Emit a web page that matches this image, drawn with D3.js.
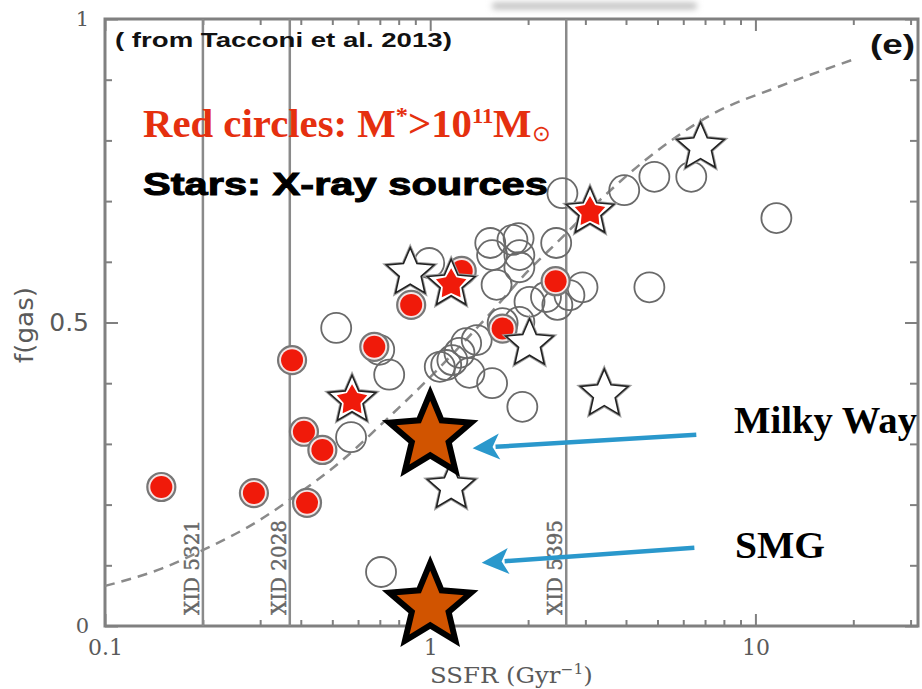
<!DOCTYPE html>
<html><head><meta charset="utf-8">
<script src="https://cdn.jsdelivr.net/npm/d3@7"></script>
<style>body{margin:0;background:#fff} svg{display:block}</style>
</head><body>
<svg id="c" width="922" height="689"></svg>
<script>
// ---------- data ----------
const xTicks = [0.1, 1, 10];
const xTickLabels = ["0.1", "1", "10"];
const yTicks = [0, 0.5, 1];
const yTickLabels = ["0", "0.5", "1"];

// dashed model curve
const curveSSFR = [0.1, 0.15, 0.2, 0.3, 0.37, 0.55, 0.7, 1.0, 1.5, 2.0, 2.5, 3.3, 4.6, 7.3, 12, 19.7];
const curveF    = [0.066, 0.095, 0.125, 0.175, 0.208, 0.278, 0.33, 0.41, 0.51, 0.585, 0.636, 0.70, 0.768, 0.842, 0.89, 0.932];

// open circles (all galaxies)
const openSSFR = [0.514, 0.697, 0.748, 0.571, 0.706, 0.993, 1.55, 1.79, 1.88, 2.44, 1.88, 1.60, 2.02, 2.27, 2.46, 2.68, 2.94, 2.55, 3.95, 4.89, 6.35, 11.6, 4.72, 1.32, 1.55, 1.92, 1.07, 1.12, 1.17, 1.23, 1.29, 1.39, 1.67, 1.88, 1.53, 1.87];
const openF    = [0.491, 0.455, 0.414, 0.311, 0.089, 0.598, 0.611, 0.636, 0.611, 0.631, 0.591, 0.562, 0.534, 0.542, 0.529, 0.545, 0.558, 0.713, 0.718, 0.740, 0.740, 0.672, 0.558, 0.417, 0.400, 0.361, 0.427, 0.430, 0.438, 0.450, 0.466, 0.471, 0.499, 0.501, 0.631, 0.639];

// red circles: M* > 10^11 Msun
const redSSFR = [0.149, 0.287, 0.376, 0.409, 0.418, 0.466, 0.673, 0.874, 1.67, 2.43, 1.25];
const redF    = [0.229, 0.219, 0.438, 0.320, 0.203, 0.290, 0.460, 0.529, 0.490, 0.568, 0.585];

// stars: X-ray sources (massive = red filled)
const starSSFR    = [0.868, 6.78, 2.02, 3.43, 1.16, 0.575, 1.16, 3.10];
const starF       = [0.582, 0.789, 0.465, 0.382, 0.229, 0.372, 0.563, 0.682];
const starMassive = [false, false, false, false, false, true, true, true];

// XID vertical lines
const xidSSFR   = [0.2, 0.37, 2.62];
const xidLabels = ["XID 5321", "XID 2028", "XID 5395"];

// reference objects
const refNames = ["Milky Way", "SMG"];
const refSSFR  = [1.0, 1.0];
const refF     = [0.313, 0.033];
const arrowFromSSFR = [6.58, 6.49];
const arrowFromF    = [0.315, 0.129];
const arrowToSSFR   = [1.35, 1.44];
const arrowToF      = [0.293, 0.104];

// ---------- chart ----------
const svg = d3.select("#c");
const x = d3.scaleLog().domain([0.1, 31.62]).range([105, 918]);
const y = d3.scaleLinear().domain([0, 1]).range([626, 19]);
const GRAY = "#808080";

const defs = svg.append("defs");
defs.append("filter").attr("id", "blur").attr("x", "-20%").attr("y", "-200%").attr("width", "140%").attr("height", "500%")
  .append("feGaussianBlur").attr("stdDeviation", 3);

// blurred bar artifact at the top
svg.append("rect").attr("x", 492).attr("y", 3).attr("width", 205).attr("height", 6)
  .attr("rx", 3).attr("fill", "#b8b8b8").attr("filter", "url(#blur)");

// minor tick values
const minorX = [];
[0.1, 1, 10].forEach(p => { for (let k = 2; k <= 9; k++) { const v = k * p; if (v < 31.6) minorX.push(v); } });
const minorY = d3.range(1, 10).map(i => i / 10).filter(v => Math.abs(v - 0.5) > 1e-9);

function ticks(axisFn, scale, vals, size, tr) {
  svg.append("g").attr("transform", tr)
    .call(axisFn(scale).tickValues(vals).tickSizeInner(-size).tickSizeOuter(0).tickFormat(""))
    .call(g => g.select(".domain").remove())
    .selectAll("line").attr("stroke", GRAY).attr("stroke-width", 2);
}
ticks(d3.axisBottom, x, minorX, 6, "translate(0,626)");
ticks(d3.axisBottom, x, xTicks, 12, "translate(0,626)");
ticks(d3.axisTop, x, minorX, 6, "translate(0,19)");
ticks(d3.axisTop, x, xTicks, 12, "translate(0,19)");
ticks(d3.axisLeft, y, minorY, 7, "translate(105,0)");
ticks(d3.axisLeft, y, yTicks, 13, "translate(105,0)");
ticks(d3.axisRight, y, minorY, 8, "translate(918,0)");
ticks(d3.axisRight, y, yTicks, 13, "translate(918,0)");

// tick labels
const gx = svg.append("g").attr("transform", "translate(0,626)")
  .call(d3.axisBottom(x).tickValues(xTicks).tickFormat((d, i) => xTickLabels[i]).tickSize(0).tickPadding(13));
gx.select(".domain").remove();
gx.selectAll("text").attr("font-family", "DejaVu Serif").attr("font-size", 22).attr("fill", "#5a5a5a");

const gy = svg.append("g").attr("transform", "translate(105,0)")
  .call(d3.axisLeft(y).tickValues(yTicks).tickFormat((d, i) => yTickLabels[i]).tickSize(0).tickPadding(16));
gy.select(".domain").remove();
gy.selectAll("text").attr("fill", "#5a5a5a")
  .attr("font-family", (d, i) => yTickLabels[i] === "0.5" ? "DejaVu Sans" : "DejaVu Serif")
  .attr("font-size", (d, i) => yTickLabels[i] === "0.5" ? 25 : 21);

// frame
svg.append("rect").attr("x", x.range()[0]).attr("y", y.range()[1])
  .attr("width", x.range()[1] - x.range()[0]).attr("height", y.range()[0] - y.range()[1])
  .attr("fill", "none").attr("stroke", GRAY).attr("stroke-width", 3);

// XID vertical lines + labels
svg.append("g").selectAll("line").data(xidSSFR).join("line")
  .attr("x1", d => x(d)).attr("x2", d => x(d)).attr("y1", y(0)).attr("y2", y(1))
  .attr("stroke", "#8a8a8a").attr("stroke-width", 2.5);
svg.append("g").selectAll("text").data(xidSSFR).join("text")
  .attr("transform", d => `translate(${x(d) - 4},615) rotate(-90)`)
  .attr("font-family", "DejaVu Serif").attr("font-size", 20).attr("fill", "#666")
  .attr("stroke", "#666").attr("stroke-width", 0.4)
  .attr("textLength", 95).attr("lengthAdjust", "spacingAndGlyphs")
  .text((d, i) => xidLabels[i]);

// dashed curve
const curvePts = curveSSFR.map((v, i) => [v, curveF[i]]);
svg.append("path").datum(curvePts)
  .attr("d", d3.line().x(d => x(d[0])).y(d => y(d[1])).curve(d3.curveMonotoneX))
  .attr("fill", "none").attr("stroke", "#8a8a8a").attr("stroke-width", 2.5)
  .attr("stroke-dasharray", "10,7");

// open circles
svg.append("g").selectAll("circle").data(openSSFR).join("circle")
  .attr("cx", d => x(d)).attr("cy", (d, i) => y(openF[i])).attr("r", 15)
  .attr("fill", "none").attr("stroke", "#6a6a6a").attr("stroke-width", 1.8);

// red circles
const rg = svg.append("g");
rg.selectAll("circle.ring").data(redSSFR).join("circle").attr("class", "ring")
  .attr("cx", d => x(d)).attr("cy", (d, i) => y(redF[i])).attr("r", 14)
  .attr("fill", "#f3e6e6").attr("stroke", "#777").attr("stroke-width", 2.2);
rg.selectAll("circle.fill").data(redSSFR).join("circle").attr("class", "fill")
  .attr("cx", d => x(d)).attr("cy", (d, i) => y(redF[i])).attr("r", 11)
  .attr("fill", "#f01a0a");

// stars
function starPath(R, ratio) {
  const pts = [];
  for (let i = 0; i < 10; i++) {
    const r = i % 2 ? R * ratio : R;
    const a = -Math.PI / 2 + i * Math.PI / 5;
    pts.push([r * Math.cos(a), r * Math.sin(a)]);
  }
  return "M" + pts.map(p => p[0].toFixed(2) + "," + p[1].toFixed(2)).join("L") + "Z";
}
const sg = svg.append("g").selectAll("g").data(starSSFR).join("g")
  .attr("transform", (d, i) => `translate(${x(d)},${y(starF[i])})`);
sg.append("path").attr("d", starPath(25, 0.46)).attr("fill", "#fff")
  .attr("stroke", "#a0a0a0").attr("stroke-width", 3.6).attr("stroke-linejoin", "miter");
sg.append("path").attr("d", starPath(25, 0.46)).attr("fill", "#fff")
  .attr("stroke", "#222").attr("stroke-width", 1.6);
sg.filter((d, i) => starMassive[i]).append("path").attr("d", starPath(16, 0.55))
  .attr("fill", "#f01a0a");

// big reference stars
svg.append("g").selectAll("path").data(refSSFR).join("path")
  .attr("transform", (d, i) => `translate(${x(d)},${y(refF[i])})`)
  .attr("d", starPath(43, 0.45)).attr("fill", "#d15400")
  .attr("stroke", "#000").attr("stroke-width", 6).attr("stroke-linejoin", "miter");

// arrows
const BLUE = "#2a98cc";
refNames.forEach((n, i) => {
  const x0 = x(arrowFromSSFR[i]), y0 = y(arrowFromF[i]);
  const x1 = x(arrowToSSFR[i]), y1 = y(arrowToF[i]);
  const dx = x1 - x0, dy = y1 - y0, L = Math.hypot(dx, dy);
  const ux = dx / L, uy = dy / L, hl = 27, hw = 13;
  const bx = x1 - ux * hl, by = y1 - uy * hl;
  svg.append("line").attr("x1", x0).attr("y1", y0).attr("x2", bx + ux * 4).attr("y2", by + uy * 4)
    .attr("stroke", BLUE).attr("stroke-width", 4.5);
  svg.append("path").attr("fill", BLUE)
    .attr("d", `M${x1},${y1}L${bx - uy * hw},${by + ux * hw}L${bx + ux * 7},${by + uy * 7}L${bx + uy * hw},${by - ux * hw}Z`);
});

// fit helper: horizontally stretch text to a target width
function fit(t, w) {
  const bb = t.node().getBBox();
  const s = w / bb.width;
  t.attr("transform", `translate(${bb.x},0) scale(${s},1) translate(${-bb.x},0)`);
}

// reference labels
const mw = svg.append("text").attr("x", 734).attr("y", 433)
  .attr("font-family", "Liberation Serif").attr("font-weight", "bold").attr("font-size", 38)
  .attr("fill", "#000").text(refNames[0]);
fit(mw, 183);
const smg = svg.append("text").attr("x", 735).attr("y", 558)
  .attr("font-family", "Liberation Serif").attr("font-weight", "bold").attr("font-size", 38)
  .attr("fill", "#000").text(refNames[1]);
fit(smg, 90);

// annotations
const src = svg.append("text").attr("x", 115).attr("y", 47)
  .attr("font-family", "Liberation Sans").attr("font-weight", "bold").attr("font-size", 20)
  .attr("fill", "#111").text("( from Tacconi et al. 2013)");
fit(src, 337);

const pe = svg.append("text").attr("x", 870).attr("y", 54)
  .attr("font-family", "Liberation Sans").attr("font-weight", "bold").attr("font-size", 28)
  .attr("fill", "#111").text("(e)");
fit(pe, 45);

const rc = svg.append("text").attr("x", 143).attr("y", 137)
  .attr("font-family", "Liberation Serif").attr("font-weight", "bold").attr("font-size", 40)
  .attr("fill", "#e5300f");
rc.append("tspan").text("Red circles: M");
rc.append("tspan").attr("font-size", 24).attr("dy", -14).text("*");
rc.append("tspan").attr("font-size", 40).attr("dy", 14).text(">10");
rc.append("tspan").attr("font-size", 22).attr("dy", -14).text("11");
rc.append("tspan").attr("font-size", 40).attr("dy", 14).text("M");
rc.append("tspan").attr("font-size", 22).attr("dy", 4).attr("font-weight", "normal").text("⊙");
fit(rc, 407);

const st = svg.append("text").attr("x", 143).attr("y", 195)
  .attr("font-family", "Liberation Sans").attr("font-weight", "bold").attr("font-size", 32)
  .attr("fill", "#000").attr("stroke", "#000").attr("stroke-width", 1)
  .text("Stars: X-ray sources");
fit(st, 405);

// axis titles
const xt = svg.append("text").attr("x", 430).attr("y", 683)
  .attr("font-family", "DejaVu Serif").attr("font-size", 22).attr("fill", "#5a5a5a");
xt.append("tspan").text("SSFR (Gyr");
xt.append("tspan").attr("font-size", 14).attr("dy", -9).text("−1");
xt.append("tspan").attr("font-size", 22).attr("dy", 9).text(")");
fit(xt, 163);

svg.append("text").attr("transform", "translate(33,325) rotate(-90)")
  .attr("text-anchor", "middle").attr("font-family", "DejaVu Sans").attr("font-size", 24)
  .attr("fill", "#5a5a5a").attr("textLength", 76).attr("lengthAdjust", "spacingAndGlyphs")
  .text("f(gas)");
</script>
</body></html>
